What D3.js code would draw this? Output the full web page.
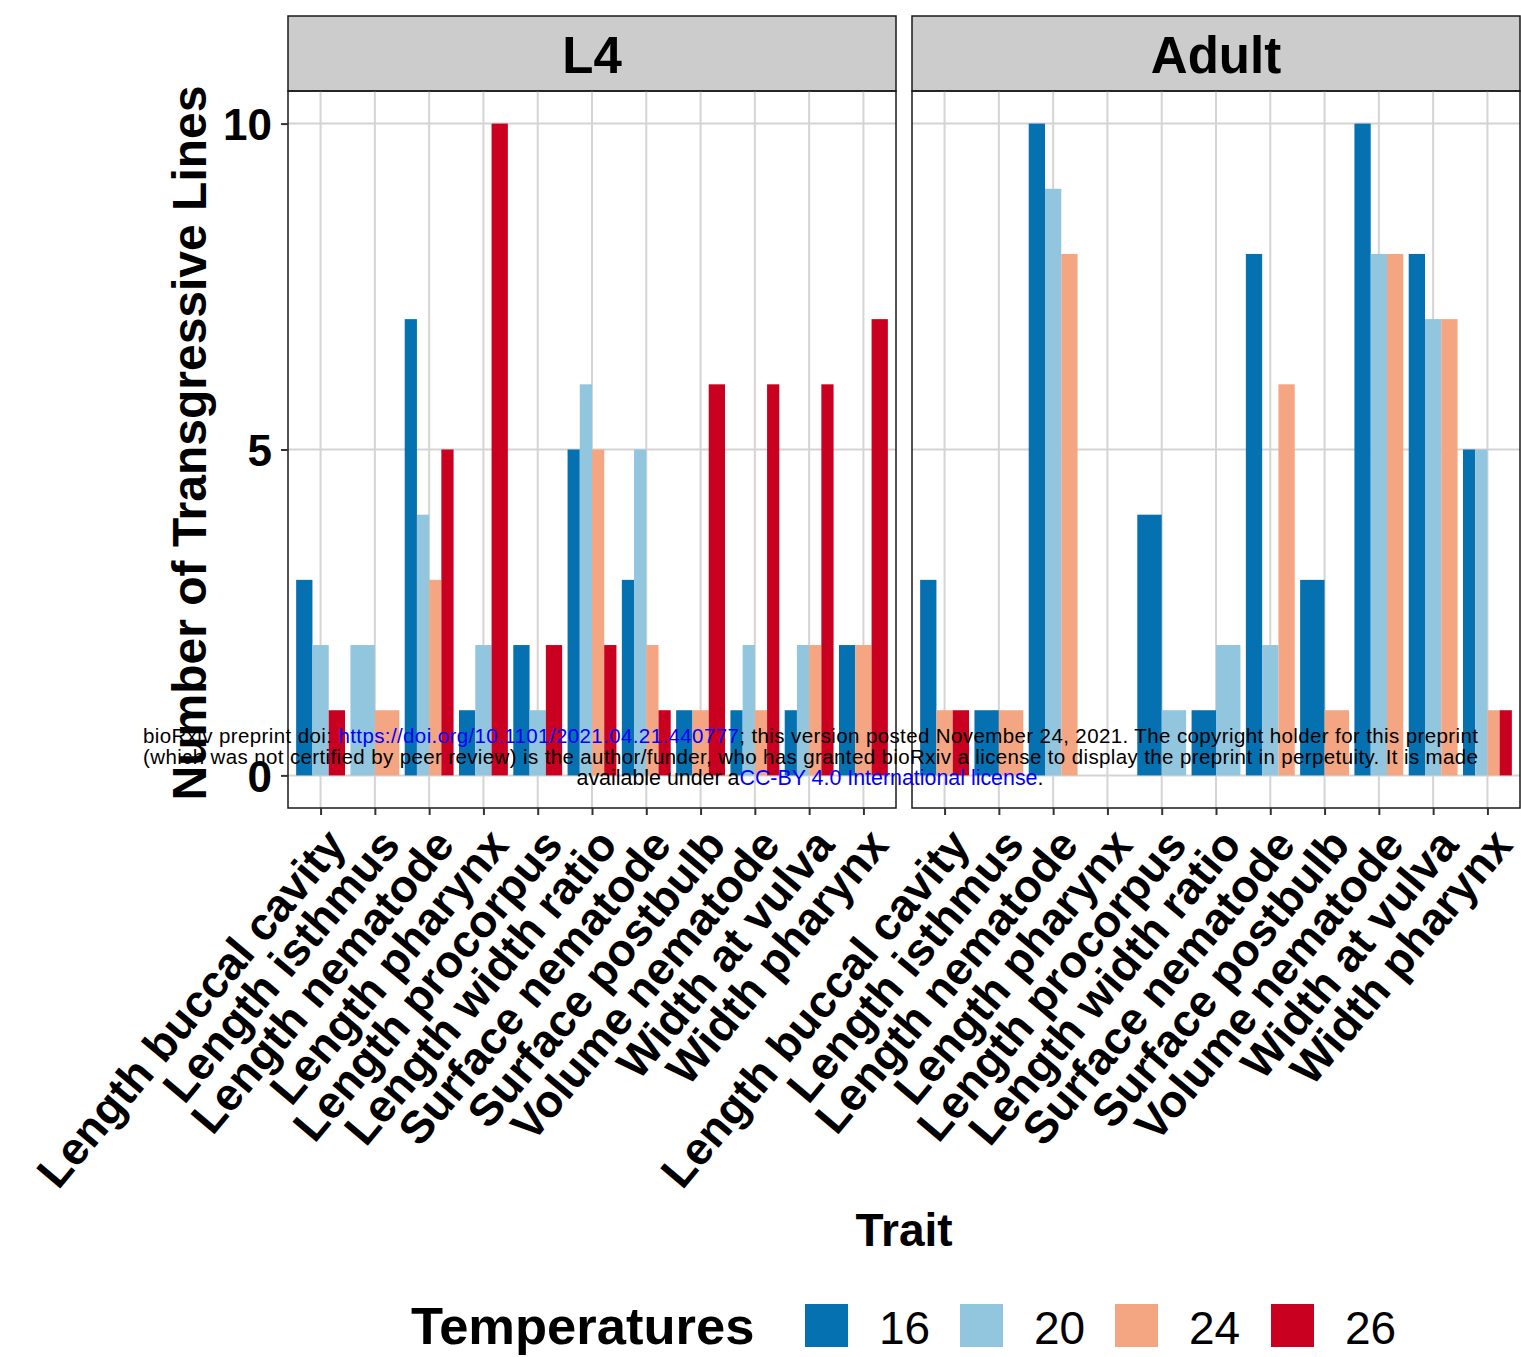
<!DOCTYPE html>
<html>
<head>
<meta charset="utf-8">
<script src="https://cdn.jsdelivr.net/npm/d3@7"></script>
<style>
  html, body { margin: 0; padding: 0; background: #fff; }
  svg { display: block; font-family: "Liberation Sans", Arial, sans-serif; }
</style>
</head>
<body>
<svg id="chart" width="1521" height="1357"></svg>
<script>
// Traits measured, in axis order
const traits = [
  "Length buccal cavity", "Length isthmus", "Length nematode", "Length pharynx",
  "Length procorpus", "Length width ratio", "Surface nematode", "Surface postbulb",
  "Volume nematode", "Width at vulva", "Width pharynx"
];
const temperatures = ["16", "20", "24", "26"];
const tempColors = ["#0571b0", "#92c5de", "#f4a582", "#ca0020"];
const stages = ["L4", "Adult"];

// Number of transgressive lines per trait, one array per stage x temperature
const l4_16 = [3, 0, 7, 1, 2, 5, 3, 1, 1, 1, 2];
const l4_20 = [2, 2, 4, 2, 1, 6, 5, 0, 2, 2, 0];
const l4_24 = [0, 1, 3, 0, 0, 5, 2, 1, 1, 2, 2];
const l4_26 = [1, 0, 5, 10, 2, 2, 1, 6, 6, 6, 7];

const adult_16 = [3, 1, 10, 0, 4, 1, 8, 3, 10, 8, 5];
const adult_20 = [0, 0, 9, 0, 1, 2, 2, 0, 8, 7, 5];
const adult_24 = [1, 1, 8, 0, 0, 0, 6, 1, 8, 7, 1];
const adult_26 = [1, 0, 0, 0, 0, 0, 0, 0, 0, 0, 1];

const yTicks = [0, 5, 10];

const seriesByStage = {
  "L4": [l4_16, l4_20, l4_24, l4_26],
  "Adult": [adult_16, adult_20, adult_24, adult_26]
};

const svg = d3.select("#chart");
const FONT = '"Liberation Sans", Arial, sans-serif';

// Panel geometry
const panelTop = 91, panelBottom = 808;
const stripTop = 16;
const panelW = 608;
const panelX = { "L4": 288, "Adult": 912 };

const y = d3.scaleLinear().domain([-0.5, 10.5]).range([panelBottom, panelTop]);
const x = d3.scalePoint().domain(traits).range([0, panelW]).padding(0.6);
const groupW = x.step() * 0.9;
const color = d3.scaleOrdinal().domain(temperatures).range(tempColors);

stages.forEach(stage => {
  const g = svg.append("g").attr("transform", `translate(${panelX[stage]},0)`);

  // strip
  g.append("rect")
    .attr("x", 0).attr("y", stripTop)
    .attr("width", panelW).attr("height", panelTop - stripTop)
    .attr("fill", "#cccccc").attr("stroke", "#1a1a1a").attr("stroke-width", 1.5);
  g.append("text")
    .attr("x", panelW / 2).attr("y", 73)
    .attr("text-anchor", "middle")
    .attr("font-size", 51).attr("font-weight", "bold").attr("fill", "#000")
    .text(stage);

  // grid
  g.append("g").selectAll("line.h").data(yTicks).join("line")
    .attr("x1", 0).attr("x2", panelW)
    .attr("y1", d => y(d)).attr("y2", d => y(d))
    .attr("stroke", "#d4d4d4").attr("stroke-width", 2);
  g.append("g").selectAll("line.v").data(traits).join("line")
    .attr("x1", d => x(d)).attr("x2", d => x(d))
    .attr("y1", panelTop).attr("y2", panelBottom)
    .attr("stroke", "#d4d4d4").attr("stroke-width", 2);

  // bars: dodge only among temperatures present for each trait
  const series = seriesByStage[stage];
  const bars = [];
  traits.forEach((t, i) => {
    const present = temperatures
      .map((temp, k) => ({ temp, value: series[k][i] }))
      .filter(d => d.value > 0);
    const bw = groupW / present.length;
    present.forEach((d, j) => {
      bars.push({ trait: t, temp: d.temp, value: d.value,
                  x0: x(t) - groupW / 2 + j * bw, w: bw });
    });
  });
  g.append("g").selectAll("rect").data(bars).join("rect")
    .attr("x", d => d.x0)
    .attr("width", d => d.w)
    .attr("y", d => y(d.value))
    .attr("height", d => y(0) - y(d.value))
    .attr("fill", d => color(d.temp));

  // panel border
  g.append("rect")
    .attr("x", 0).attr("y", panelTop)
    .attr("width", panelW).attr("height", panelBottom - panelTop)
    .attr("fill", "none").attr("stroke", "#1a1a1a").attr("stroke-width", 1.5);

  // x axis
  const xAxis = d3.axisBottom(x).tickSize(7).tickFormat("");
  const xa = g.append("g").attr("transform", `translate(0,${panelBottom})`).call(xAxis);
  xa.select(".domain").remove();
  xa.selectAll(".tick line").attr("stroke", "#333").attr("stroke-width", 2);

  g.append("g").selectAll("text").data(traits).join("text")
    .attr("transform", d => `translate(${x(d) + 2},${panelBottom + 17}) rotate(-50)`)
    .attr("text-anchor", "end")
    .attr("dy", "0.72em")
    .attr("font-size", 45.5).attr("font-weight", "bold").attr("fill", "#000")
    .text(d => d);
});

// y axis on the left panel
const yAxis = d3.axisLeft(y).tickValues(yTicks).tickSize(7).tickPadding(9).tickFormat(d3.format("d"));
const ya = svg.append("g").attr("transform", `translate(${panelX["L4"]},0)`).call(yAxis);
ya.select(".domain").remove();
ya.selectAll(".tick line").attr("stroke", "#333").attr("stroke-width", 2);
ya.selectAll(".tick text")
  .attr("font-family", FONT).attr("font-size", 44).attr("font-weight", "bold").attr("fill", "#000")
  .attr("dy", "0.36em");

// axis titles
svg.append("text")
  .attr("transform", `translate(206,443) rotate(-90)`)
  .attr("text-anchor", "middle")
  .attr("font-size", 48).attr("font-weight", "bold").attr("fill", "#000")
  .text("Number of Transgressive Lines");

svg.append("text")
  .attr("x", 904).attr("y", 1246)
  .attr("text-anchor", "middle")
  .attr("font-size", 46).attr("font-weight", "bold").attr("fill", "#000")
  .text("Trait");

// legend
const legend = svg.append("g");
legend.append("text")
  .attr("x", 411).attr("y", 1344)
  .attr("font-size", 52.5).attr("font-weight", "bold").attr("fill", "#000")
  .text("Temperatures");
const keyX = [805, 960, 1115, 1271];
temperatures.forEach((t, i) => {
  legend.append("rect")
    .attr("x", keyX[i]).attr("y", 1304)
    .attr("width", 43).attr("height", 43)
    .attr("fill", color(t));
  legend.append("text")
    .attr("x", keyX[i] + 74).attr("y", 1344)
    .attr("font-size", 46).attr("fill", "#000")
    .text(t);
});

// preprint notice
const notice = svg.append("g").attr("font-size", 20.5).attr("fill", "#000");
const line1 = notice.append("text").attr("x", 143).attr("y", 743)
  .attr("textLength", 1335).attr("lengthAdjust", "spacing");
line1.append("tspan").text("bioRxiv preprint doi: ");
line1.append("tspan").attr("fill", "#0000ff").text("https://doi.org/10.1101/2021.04.21.440777");
line1.append("tspan").text("; this version posted November 24, 2021. The copyright holder for this preprint");
notice.append("text").attr("x", 143).attr("y", 764)
  .attr("textLength", 1335).attr("lengthAdjust", "spacing")
  .text("(which was not certified by peer review) is the author/funder, who has granted bioRxiv a license to display the preprint in perpetuity. It is made");
const line3 = notice.append("text").attr("x", 810).attr("y", 785)
  .attr("text-anchor", "middle").attr("font-size", 21.4);
line3.append("tspan").text("available under a");
line3.append("tspan").attr("fill", "#0000ff").text("CC-BY 4.0 International license");
line3.append("tspan").text(".");
</script>
</body>
</html>
